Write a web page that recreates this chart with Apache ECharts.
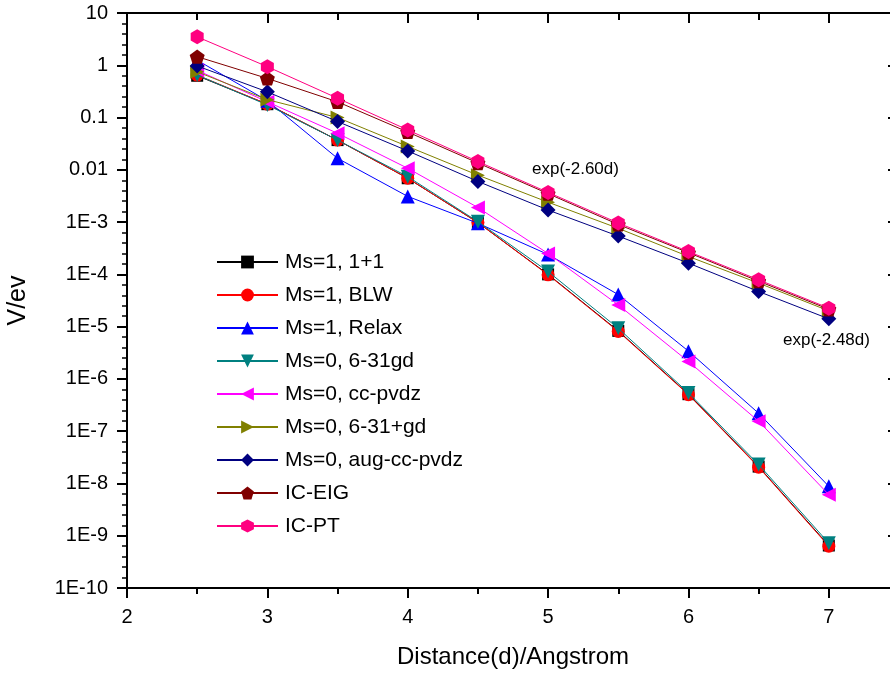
<!DOCTYPE html>
<html>
<head>
<meta charset="utf-8">
<script src="https://cdn.jsdelivr.net/npm/echarts@6/dist/echarts.min.js"></script>
<style>
  html, body { margin: 0; padding: 0; background: #fff; }
  #main { width: 890px; height: 677px; }
</style>
</head>
<body>
<div id="main"></div>
<script>
// distances (Angstrom)
const distance = [2.5, 3, 3.5, 4, 4.5, 5, 5.5, 6, 6.5, 7]
// V/ev for each method
const ms1_11 = [0.63, 0.18, 0.037, 0.0069, 9.8e-4, 1.0e-4, 8.3e-6, 5.1e-7, 2.1e-8, 6.5e-10]
const ms1_blw = [0.65, 0.18, 0.037, 0.0069, 9.8e-4, 9.8e-5, 8.1e-6, 5.0e-7, 2.05e-8, 6.3e-10]
const ms1_relax = [1.25, 0.21, 0.0166, 0.0031, 9.5e-4, 2.4e-4, 4.1e-5, 3.4e-6, 2.2e-7, 8.8e-9]
const ms0_631gd = [0.65, 0.174, 0.037, 0.0074, 1.02e-3, 1.13e-4, 9.3e-6, 5.4e-7, 2.3e-8, 7.2e-10]
const ms0_ccpvdz = [0.8, 0.2, 0.05, 0.0107, 0.0019, 2.5e-4, 2.6e-5, 2.15e-6, 1.55e-7, 6.1e-9]
const ms0_631pgd = [0.75, 0.22, 0.1, 0.028, 0.0079, 0.0024, 7.6e-4, 2.2e-4, 6.8e-5, 2.0e-5]
const ms0_augccpvdz = [0.97, 0.31, 0.084, 0.023, 0.006, 0.0017, 5.4e-4, 1.64e-4, 4.7e-5, 1.41e-5]
const ic_eig = [1.46, 0.56, 0.2, 0.053, 0.0135, 0.0035, 9.0e-4, 2.6e-4, 7.4e-5, 2.15e-5]
const ic_pt = [3.5, 0.94, 0.234, 0.058, 0.0144, 0.0037, 9.6e-4, 2.73e-4, 7.85e-5, 2.26e-5]

const seriesNames = ['Ms=1, 1+1', 'Ms=1, BLW', 'Ms=1, Relax', 'Ms=0, 6-31gd', 'Ms=0, cc-pvdz',
  'Ms=0, 6-31+gd', 'Ms=0, aug-cc-pvdz', 'IC-EIG', 'IC-PT']
const seriesValues = [ms1_11, ms1_blw, ms1_relax, ms0_631gd, ms0_ccpvdz, ms0_631pgd, ms0_augccpvdz, ic_eig, ic_pt]

const xTickLabels = ['2', '3', '4', '5', '6', '7']
const yTickLabels = ['1E-10', '1E-9', '1E-8', '1E-7', '1E-6', '1E-5', '1E-4', '1E-3', '0.01', '0.1', '1', '10']

const fitNotes = ['exp(-2.60d)', 'exp(-2.48d)']

const pentagon = 'path://M0,-1L0.951,-0.309L0.588,0.809L-0.588,0.809L-0.951,-0.309Z'
const hexagon = 'path://M0,-1L0.866,-0.5L0.866,0.5L0,1L-0.866,0.5L-0.866,-0.5Z'
// style per series: color, symbol, rotate, size
const styles = [
  ['#000000', 'rect', 0, 12],
  ['#FF0000', 'circle', 0, 13],
  ['#0000FF', 'triangle', 0, 14],
  ['#008080', 'triangle', 180, 14],
  ['#FF00FF', 'triangle', 90, 14],
  ['#808000', 'triangle', -90, 14],
  ['#000080', 'diamond', 0, 15],
  ['#800000', pentagon, 0, 15],
  ['#FF0080', hexagon, 0, 15]
]

const font = 'Liberation Sans'
const axisStyle = { color: '#000', width: 2 }

let chart = echarts.init(document.getElementById('main'))

let series = seriesNames.map((name, i) => {
  let s = styles[i]
  return {
    name: name,
    type: 'line',
    data: distance.map((d, j) => [d, seriesValues[i][j]]),
    symbol: s[1],
    symbolRotate: s[2],
    symbolSize: s[3],
    symbolKeepAspect: true,
    showAllSymbol: true,
    color: s[0],
    lineStyle: { color: s[0], width: 1 },
    itemStyle: { color: s[0] },
    emphasis: { disabled: true },
    animation: false,
    z: 2 + i
  }
})

chart.setOption({
  backgroundColor: '#fff',
  animation: false,
  // plot runs past the right edge of the picture (x max 7.5 is cropped)
  grid: { left: 127, top: 13, width: 772, bottom: 89, outerBoundsMode: 'none' },
  legend: {
    orient: 'vertical',
    left: 211,
    top: 246,
    itemWidth: 61,
    itemHeight: 16,
    itemGap: 11,
    textStyle: { fontFamily: font, fontSize: 21, color: '#000', lineHeight: 22, padding: [0, 0, 0, 2] },
    data: seriesNames
  },
  xAxis: [{
    type: 'value',
    min: 2,
    max: 7.5,
    interval: 1,
    position: 'bottom',
    name: 'Distance(d)/Angstrom',
    nameLocation: 'middle',
    nameGap: 57,
    nameTextStyle: { fontFamily: font, fontSize: 24, color: '#000' },
    axisLine: { onZero: false, lineStyle: axisStyle },
    axisTick: { inside: false, length: 10, lineStyle: axisStyle },
    minorTick: { show: true, splitNumber: 2, length: 6, lineStyle: axisStyle },
    splitLine: { show: false },
    axisLabel: {
      fontFamily: font, fontSize: 20, color: '#000', margin: 19, showMaxLabel: false,
      formatter: v => Number.isInteger(v) ? xTickLabels[v - 2] : ''
    }
  }, {
    type: 'value',
    min: 2,
    max: 7.5,
    interval: 1,
    position: 'top',
    axisLine: { onZero: false, lineStyle: axisStyle },
    axisTick: { inside: true, length: 10, lineStyle: axisStyle },
    minorTick: { show: true, splitNumber: 2, length: 7, lineStyle: axisStyle },
    splitLine: { show: false },
    axisLabel: { show: false }
  }],
  yAxis: [{
    type: 'log',
    min: 1e-10,
    max: 10,
    interval: 1,
    position: 'left',
    name: 'V/ev',
    nameLocation: 'middle',
    nameGap: 96,
    nameTextStyle: { fontFamily: font, fontSize: 25, color: '#000' },
    axisLine: { onZero: false, lineStyle: axisStyle },
    axisTick: { inside: false, length: 10, lineStyle: axisStyle },
    splitLine: { show: false },
    axisLabel: {
      fontFamily: font, fontSize: 20, color: '#000', margin: 19,
      formatter: v => yTickLabels[Math.round(Math.log10(v)) + 10]
    }
  }, {
    // decade exponent axis, moved onto the left edge, draws the minor ticks
    type: 'value',
    min: -10,
    max: 1,
    interval: 1,
    position: 'right',
    offset: -772,
    axisLine: { show: true, onZero: false, lineStyle: axisStyle },
    axisTick: { show: true, inside: true, length: 10, lineStyle: axisStyle },
    minorTick: { show: true, splitNumber: 5, length: 5, lineStyle: { color: '#000', width: 1.5 } },
    splitLine: { show: false },
    axisLabel: { show: false }
  }, {
    type: 'log',
    min: 1e-10,
    max: 10,
    interval: 1,
    position: 'right',
    axisLine: { onZero: false, lineStyle: axisStyle },
    axisTick: { inside: true, length: 11, lineStyle: axisStyle },
    splitLine: { show: false },
    axisLabel: { show: false }
  }],
  graphic: [
    { type: 'text', left: 532, top: 161, style: { text: fitNotes[0], font: '17px "Liberation Sans"', fill: '#000' } },
    { type: 'text', left: 783, top: 332, style: { text: fitNotes[1], font: '17px "Liberation Sans"', fill: '#000' } }
  ],
  series: series
})
</script>
</body>
</html>
